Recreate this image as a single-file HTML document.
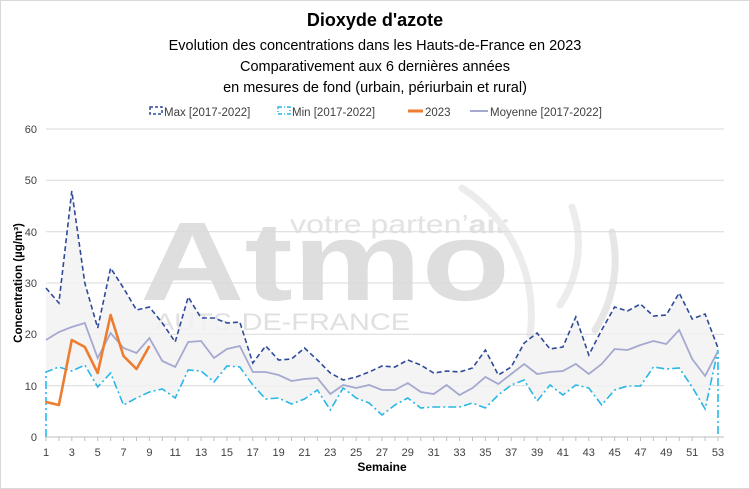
<!DOCTYPE html>
<html><head><meta charset="utf-8"><style>
body{margin:0;background:#fff}
svg{display:block;font-family:"Liberation Sans",sans-serif}
</style></head><body>
<svg width="750" height="489" viewBox="0 0 750 489">
<rect x="0.5" y="0.5" width="749" height="488" fill="#fff" stroke="#d9d9d9"/>
<!-- watermark -->
<g fill="#dedede">
<text x="140" y="300" font-size="112" font-weight="bold" textLength="370" lengthAdjust="spacingAndGlyphs">Atmo</text>
<text x="290" y="233" font-size="26" fill="#e2e2e2" textLength="218" lengthAdjust="spacingAndGlyphs">votre parten’<tspan font-weight="bold">air</tspan></text>
<text x="155" y="330" font-size="24" fill="#e0e0e0" textLength="255" lengthAdjust="spacingAndGlyphs">AUTS-DE-FRANCE</text>
</g>
<g fill="none" stroke="#ececec" stroke-width="7" stroke-linecap="round">
<path d="M462 188 A 150 150 0 0 1 530 335"/>
<path d="M572 207 A 110 110 0 0 1 560 305"/>
<path d="M612 232 A 130 130 0 0 1 595 330" stroke="#e6e6e6"/>
</g>
<!-- title -->
<text x="375" y="26" text-anchor="middle" font-size="18" font-weight="bold" fill="#000">Dioxyde d'azote</text>
<g font-size="14.5" text-anchor="middle" fill="#000">
<text x="375" y="50">Evolution des concentrations dans les Hauts-de-France en 2023</text>
<text x="375" y="71">Comparativement aux 6 dernières années</text>
<text x="375" y="92">en mesures de fond (urbain, périurbain et rural)</text>
</g>
<!-- legend -->
<g font-size="11.5" fill="#404040">
<rect x="150" y="107" width="12" height="7" fill="none" stroke="#2f4a9a" stroke-width="1.5" stroke-dasharray="3,2"/>
<text x="164" y="116">Max [2017-2022]</text>
<rect x="278" y="107" width="12" height="7" fill="none" stroke="#29b7e6" stroke-width="1.5" stroke-dasharray="4,2,1,2"/>
<text x="292" y="116">Min [2017-2022]</text>
<line x1="408" y1="111" x2="423" y2="111" stroke="#ed7d31" stroke-width="3"/>
<text x="425" y="116">2023</text>
<line x1="470" y1="111" x2="488" y2="111" stroke="#a5a9d0" stroke-width="2"/>
<text x="490" y="116">Moyenne [2017-2022]</text>
</g>
<!-- grid -->
<g stroke="#d9d9d9" stroke-width="1">
<line x1="46" y1="129" x2="724" y2="129"/>
<line x1="46" y1="180.3" x2="724" y2="180.3"/>
<line x1="46" y1="231.7" x2="724" y2="231.7"/>
<line x1="46" y1="283" x2="724" y2="283"/>
<line x1="46" y1="334.3" x2="724" y2="334.3"/>
<line x1="46" y1="385.7" x2="724" y2="385.7"/>
</g>
<g font-size="11" fill="#404040" text-anchor="end">
<text x="37" y="133">60</text><text x="37" y="184">50</text><text x="37" y="236">40</text>
<text x="37" y="287">30</text><text x="37" y="338">20</text><text x="37" y="390">10</text><text x="37" y="441">0</text>
</g>
<!-- band -->
<polygon fill="#f2f2f2" fill-opacity="0.85" points="46,288 58.9,303 71.8,191 84.8,283 97.7,328 110.6,268 123.5,288 136.5,310 149.4,307 162.3,323 175.2,342 188.2,297 201.1,318 214,318 226.9,323 239.8,322 252.8,363 265.7,346 278.6,360 291.5,359 304.5,348 317.4,360 330.3,373 343.2,380 356.2,377 369.1,372 382,366 394.9,367 407.8,360 420.8,365 433.7,373 446.6,371 459.5,372 472.5,368 485.4,350 498.3,375 511.2,367 524.2,343 537.1,333 550,349 562.9,347 575.8,317 588.8,355 601.7,330 614.6,307 627.5,311 640.5,304 653.4,316 666.3,315 679.2,293 692.2,319 705.1,314 718,348 718,350 705.1,409 692.2,387 679.2,368 666.3,369 653.4,367 640.5,386 627.5,386 614.6,390 601.7,405 588.8,388 575.8,385 562.9,395 550,385 537.1,401 524.2,380 511.2,385 498.3,395 485.4,408 472.5,403 459.5,407 446.6,407 433.7,407 420.8,408 407.8,398 394.9,405 382,415 369.1,403 356.2,398 343.2,388 330.3,410 317.4,390 304.5,399 291.5,404 278.6,398 265.7,399 252.8,385 239.8,367 226.9,366 214,382 201.1,371 188.2,370 175.2,398 162.3,389 149.4,392 136.5,398 123.5,405 110.6,373 97.7,387 84.8,365 71.8,371 58.9,367 46,372"/>
<!-- min -->
<polyline fill="none" stroke="#29b7e6" stroke-width="1.6" stroke-dasharray="8,3,2,3" points="46,437 46,372 58.9,367 71.8,371 84.8,365 97.7,387 110.6,373 123.5,405 136.5,398 149.4,392 162.3,389 175.2,398 188.2,370 201.1,371 214,382 226.9,366 239.8,367 252.8,385 265.7,399 278.6,398 291.5,404 304.5,399 317.4,390 330.3,410 343.2,388 356.2,398 369.1,403 382,415 394.9,405 407.8,398 420.8,408 433.7,407 446.6,407 459.5,407 472.5,403 485.4,408 498.3,395 511.2,385 524.2,380 537.1,401 550,385 562.9,395 575.8,385 588.8,388 601.7,405 614.6,390 627.5,386 640.5,386 653.4,367 666.3,369 679.2,368 692.2,387 705.1,409 718,350 718,437"/>
<!-- max -->
<polyline fill="none" stroke="#2f4a9a" stroke-width="1.6" stroke-dasharray="5,3" points="46,288 58.9,303 71.8,191 84.8,283 97.7,328 110.6,268 123.5,288 136.5,310 149.4,307 162.3,323 175.2,342 188.2,297 201.1,318 214,318 226.9,323 239.8,322 252.8,363 265.7,346 278.6,360 291.5,359 304.5,348 317.4,360 330.3,373 343.2,380 356.2,377 369.1,372 382,366 394.9,367 407.8,360 420.8,365 433.7,373 446.6,371 459.5,372 472.5,368 485.4,350 498.3,375 511.2,367 524.2,343 537.1,333 550,349 562.9,347 575.8,317 588.8,355 601.7,330 614.6,307 627.5,311 640.5,304 653.4,316 666.3,315 679.2,293 692.2,319 705.1,314 718,348"/>
<!-- mean -->
<polyline fill="none" stroke="#a5a9d0" stroke-width="1.8" points="46,340 58.9,332 71.8,327 84.8,323 97.7,358 110.6,333 123.5,348 136.5,353 149.4,338 162.3,361 175.2,367 188.2,342 201.1,341 214,358 226.9,349 239.8,346 252.8,372 265.7,372 278.6,375 291.5,381 304.5,379 317.4,378 330.3,394 343.2,385 356.2,388 369.1,385 382,390 394.9,390 407.8,383 420.8,392 433.7,394 446.6,385 459.5,395 472.5,388 485.4,377 498.3,384 511.2,374 524.2,364 537.1,374 550,372 562.9,371 575.8,364 588.8,374 601.7,364 614.6,349 627.5,350 640.5,345 653.4,341 666.3,344 679.2,330 692.2,359 705.1,376 718,351"/>
<!-- 2023 -->
<polyline fill="none" stroke="#ed7d31" stroke-width="2.6" stroke-linejoin="round" points="46,402 58.9,405 71.8,340 84.8,347 97.7,373 110.6,315 123.5,356 136.5,369 149.4,346"/>
<!-- x axis -->
<line x1="46" y1="437" x2="724" y2="437" stroke="#bfbfbf"/>
<g stroke="#bfbfbf">
<path d="M46 437v4M58.9 437v4M71.8 437v4M84.8 437v4M97.7 437v4M110.6 437v4M123.5 437v4M136.5 437v4M149.4 437v4M162.3 437v4M175.2 437v4M188.2 437v4M201.1 437v4M214 437v4M226.9 437v4M239.8 437v4M252.8 437v4M265.7 437v4M278.6 437v4M291.5 437v4M304.5 437v4M317.4 437v4M330.3 437v4M343.2 437v4M356.2 437v4M369.1 437v4M382 437v4M394.9 437v4M407.8 437v4M420.8 437v4M433.7 437v4M446.6 437v4M459.5 437v4M472.5 437v4M485.4 437v4M498.3 437v4M511.2 437v4M524.2 437v4M537.1 437v4M550 437v4M562.9 437v4M575.8 437v4M588.8 437v4M601.7 437v4M614.6 437v4M627.5 437v4M640.5 437v4M653.4 437v4M666.3 437v4M679.2 437v4M692.2 437v4M705.1 437v4M718 437v4"/>
</g>
<g font-size="11" fill="#404040" text-anchor="middle">
<text x="46" y="456">1</text><text x="71.8" y="456">3</text><text x="97.7" y="456">5</text><text x="123.5" y="456">7</text><text x="149.4" y="456">9</text><text x="175.2" y="456">11</text><text x="201.1" y="456">13</text><text x="226.9" y="456">15</text><text x="252.8" y="456">17</text><text x="278.6" y="456">19</text><text x="304.5" y="456">21</text><text x="330.3" y="456">23</text><text x="356.2" y="456">25</text><text x="382" y="456">27</text><text x="407.8" y="456">29</text><text x="433.7" y="456">31</text><text x="459.5" y="456">33</text><text x="485.4" y="456">35</text><text x="511.2" y="456">37</text><text x="537.1" y="456">39</text><text x="562.9" y="456">41</text><text x="588.8" y="456">43</text><text x="614.6" y="456">45</text><text x="640.5" y="456">47</text><text x="666.3" y="456">49</text><text x="692.2" y="456">51</text><text x="718" y="456">53</text>
</g>
<text x="382" y="471" text-anchor="middle" font-size="12" font-weight="bold" fill="#000">Semaine</text>
<text transform="translate(22,283) rotate(-90)" text-anchor="middle" font-size="11.5" font-weight="bold" fill="#000">Concentration (µg/m³)</text>
</svg>
</body></html>
